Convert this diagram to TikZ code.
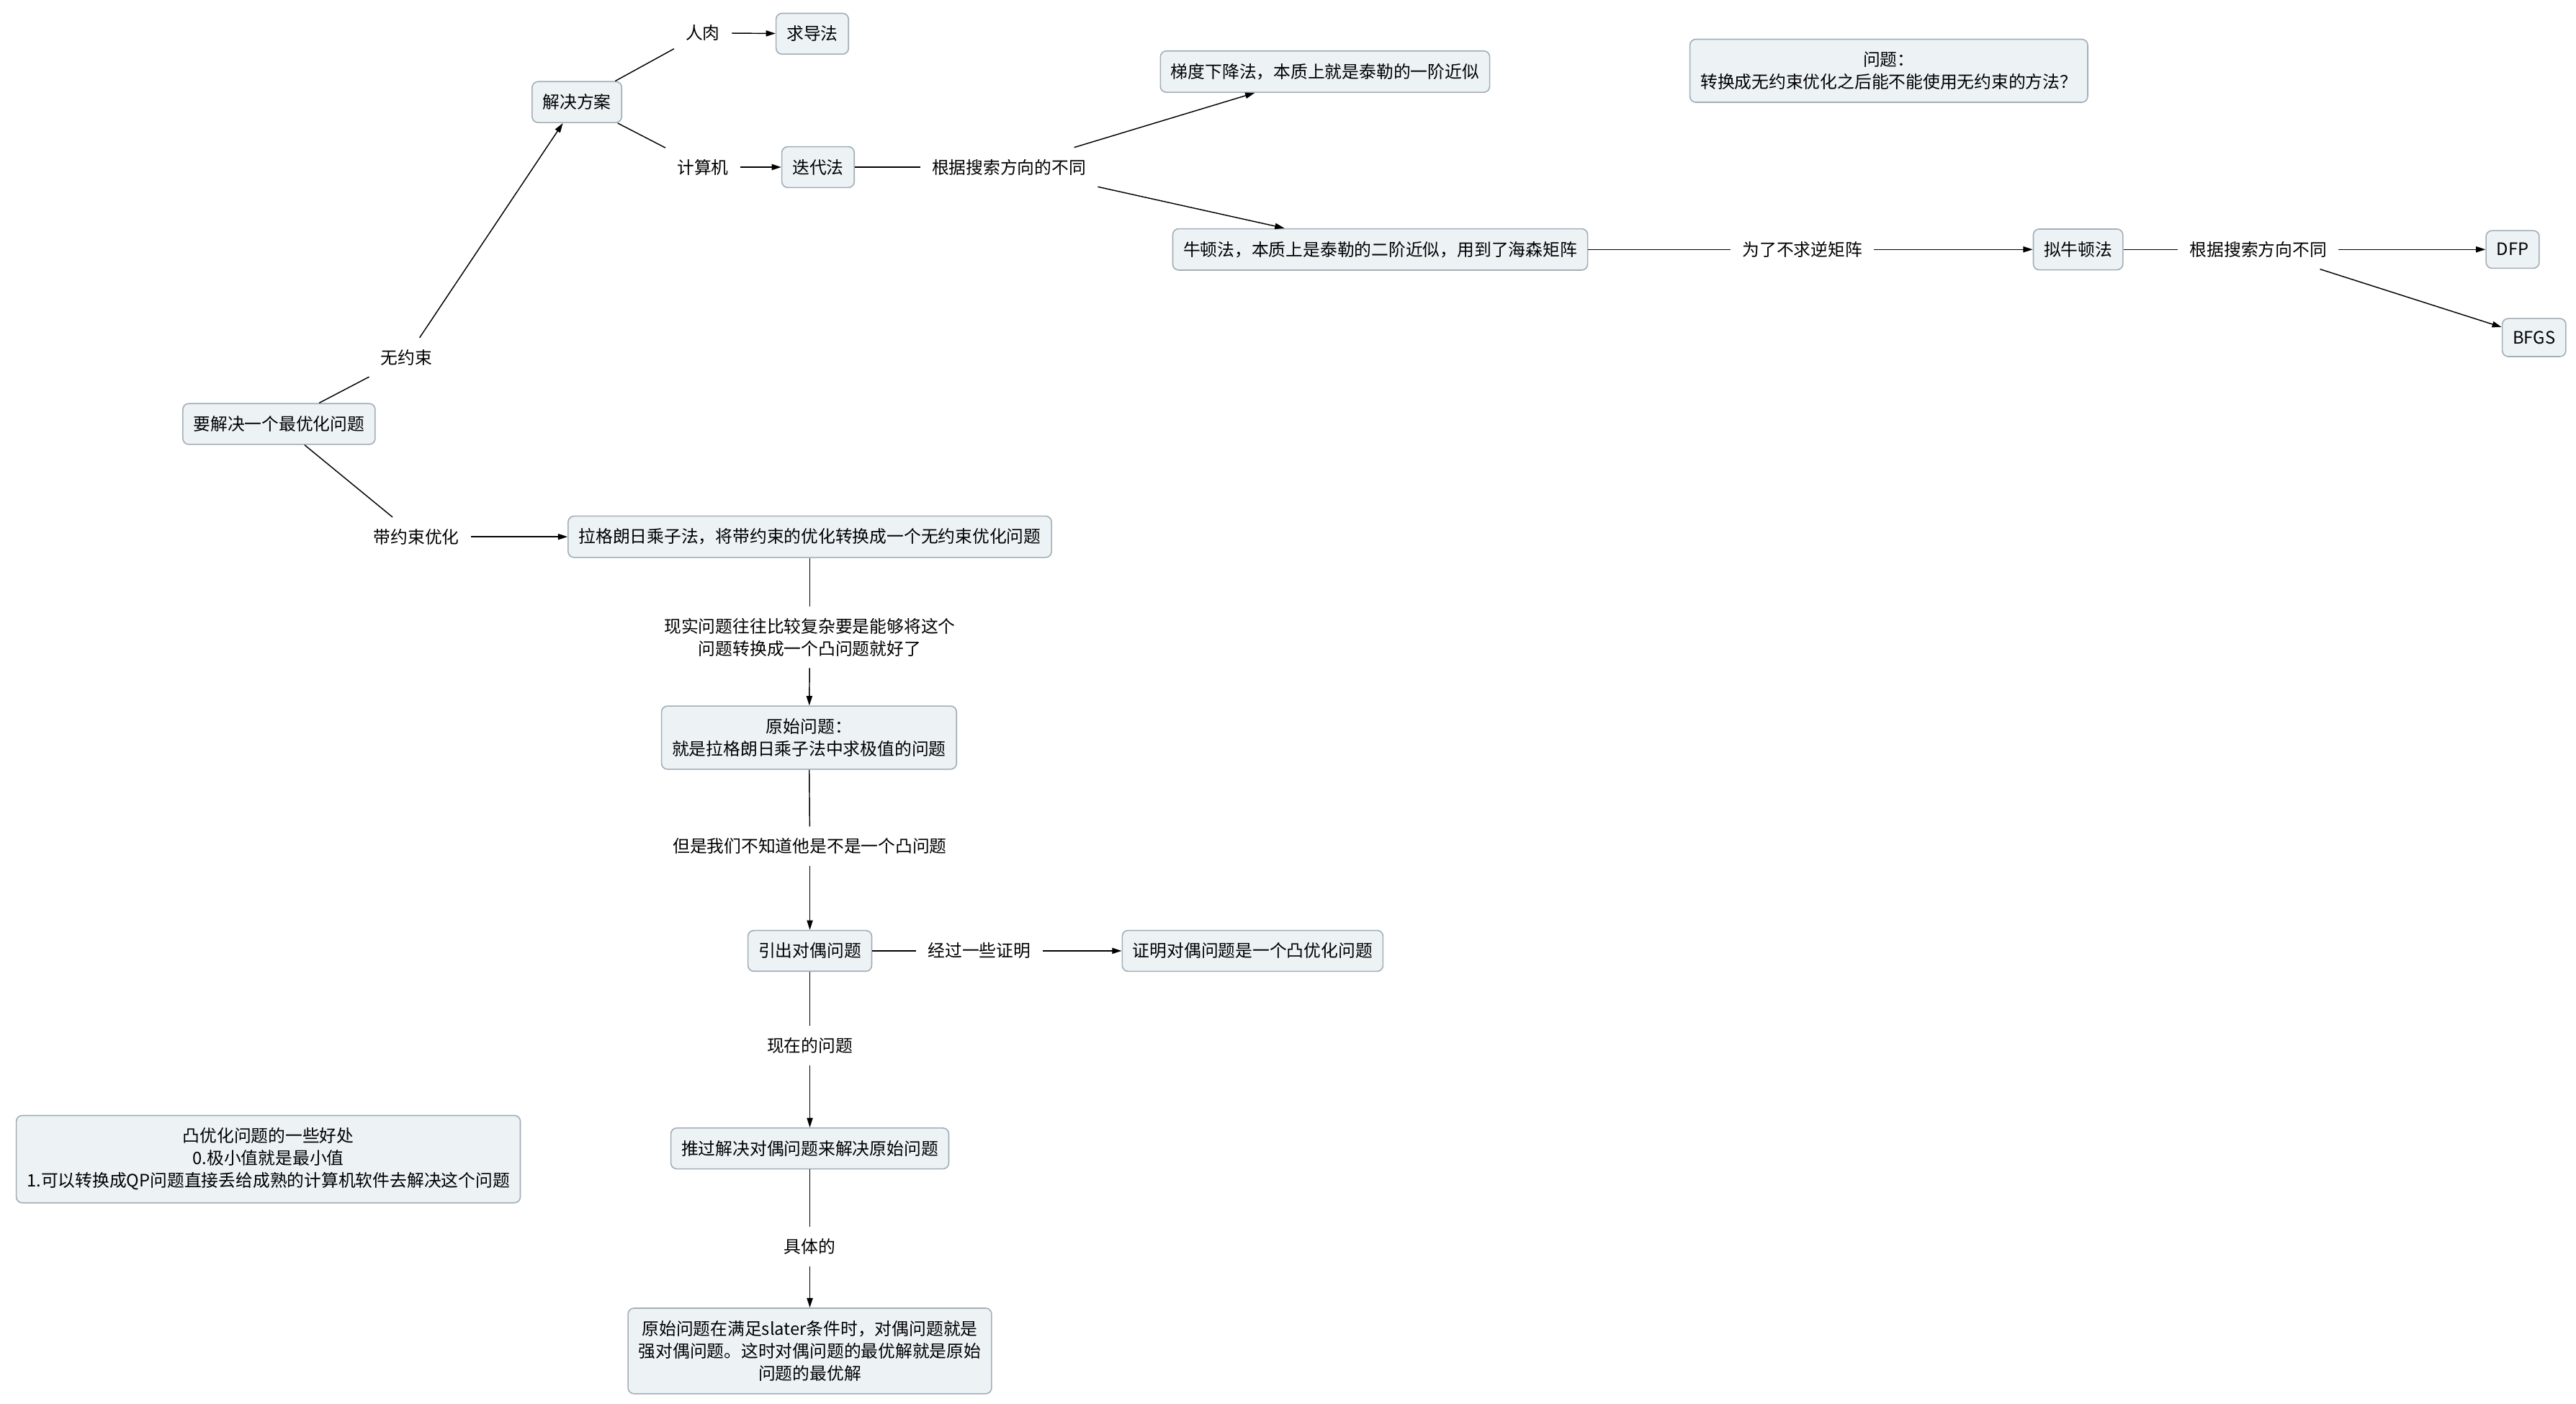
\documentclass[tikz,border=0pt]{standalone}
\usepackage{fontspec}
\setmainfont{Noto Sans CJK SC}
\usetikzlibrary{arrows.meta}
\definecolor{boxfill}{HTML}{EDF3F5}
\definecolor{boxline}{HTML}{A3AEB8}
\begin{document}
\begin{tikzpicture}[x = 0.05cm, y = -0.05cm,
        font = \fontsize{14.8pt}{19.3pt}\selectfont,
        box/.style = {draw = boxline, fill = boxfill, line width = 1pt, rounded corners = 0.18cm,
            inner xsep = 0.32cm, inner ysep = 0.38cm, align = center},
        lab/.style = {inner sep = 0.35cm, align = center},
        > = {Triangle[length = 0.29cm, width = 0.18cm]}]
    \useasboundingbox (0,0) rectangle (1565,852.3);
    % main question and the two ways
    \node[box] (goal) at (169.5,257.5) {要解决一个最优化问题};
    \node[lab] (free) at (247,217) {无约束};
    \node[lab] (cons) at (253,326) {带约束优化};
    % unconstrained branch
    \node[box] (plan) at (350.5,62) {解决方案};
    \node[lab] (hand) at (427,20) {人肉};
    \node[box] (deriv) at (493.5,20.5) {求导法};
    \node[lab] (comp) at (427,101.5) {计算机};
    \node[box] (iter) at (497,101.5) {迭代法};
    \node[lab] (dir) at (613,101.5) {根据搜索方向的不同};
    \node[box] (grad) at (805,43.5) {梯度下降法，本质上就是泰勒的一阶近似};
    \node[box] (newton) at (838.5,151.5) {牛顿法，本质上是泰勒的二阶近似，用到了海森矩阵};
    \node[lab] (inv) at (1095,151.5) {为了不求逆矩阵};
    \node[box] (quasi) at (1262.5,151.5) {拟牛顿法};
    \node[lab] (dirb) at (1372,151.5) {根据搜索方向不同};
    \node[box] (dfp) at (1526.5,151.5) {DFP};
    \node[box] (bfgs) at (1539.5,205) {BFGS};
    \node[box] (quest) at (1147.5,43) {问题：\\转换成无约束优化之后能不能使用无约束的方法？};
    % constrained branch
    \node[box] (lagr) at (492,326) {拉格朗日乘子法，将带约束的优化转换成一个无约束优化问题};
    \node[lab] (real) at (492,387) {现实问题往往比较复杂要是能够将这个\\问题转换成一个凸问题就好了};
    \node[box] (primal) at (491.5,448) {原始问题：\\就是拉格朗日乘子法中求极值的问题};
    \node[lab] (unknown) at (492,514) {但是我们不知道他是不是一个凸问题};
    \node[box] (dual) at (492,577.5) {引出对偶问题};
    \node[lab] (proof) at (595,577.5) {经过一些证明};
    \node[box] (convex) at (761,577.5) {证明对偶问题是一个凸优化问题};
    \node[lab] (now) at (492,635) {现在的问题};
    \node[box] (solve) at (492,697.5) {推过解决对偶问题来解决原始问题};
    \node[lab] (concrete) at (492,757) {具体的};
    \node[box] (slater) at (492,820.5) {原始问题在满足slater条件时，对偶问题就是\\强对偶问题。这时对偶问题的最优解就是原始\\问题的最优解};
    \node[box] (good) at (163,704) {凸优化问题的一些好处\\0.极小值就是最小值\\1.可以转换成QP问题直接丢给成熟的计算机软件去解决这个问题};
    \begin{scope}[line width = 0.9pt]
        \draw (goal) -- (free);
        \draw[->] (free) -- (plan);
        \draw (plan) -- (hand);
        \draw[->] (hand) -- (deriv);
        \draw (plan) -- (comp);
        \draw[->] (comp) -- (iter);
        \draw (iter) -- (dir);
        \draw[->] (dir) -- (grad);
        \draw[->] (dir) -- (newton);
        \draw (newton) -- (inv);
        \draw[->] (inv) -- (quasi);
        \draw (quasi) -- (dirb);
        \draw[->] (dirb) -- (dfp);
        \draw[->] (dirb) -- (bfgs);
        \draw (goal) -- (cons);
        \draw[->] (cons) -- (lagr);
        \draw (lagr) -- (real);
        \draw[->] (real) -- (primal);
        \draw (primal) -- (unknown);
        \draw[->] (unknown) -- (dual);
        \draw (dual) -- (proof);
        \draw[->] (proof) -- (convex);
        \draw (dual) -- (now);
        \draw[->] (now) -- (solve);
        \draw (solve) -- (concrete);
        \draw[->] (concrete) -- (slater);
    \end{scope}
\end{tikzpicture}
\end{document}
